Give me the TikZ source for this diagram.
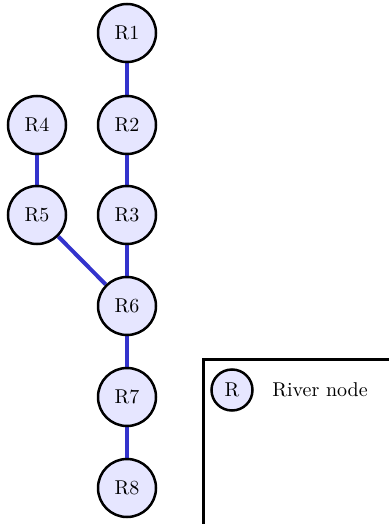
\documentclass[tikz,border=0pt]{standalone}
\usetikzlibrary{backgrounds}
\definecolor{riverblue}{RGB}{51,51,204}
\definecolor{nodefill}{RGB}{230,230,255}
\tikzset{
  river/.style={circle, draw=black, line width=1.25pt, fill=nodefill,
    minimum size=29pt, inner sep=0pt, font=\normalsize},
  smallriver/.style={circle, draw=black, line width=1.25pt, fill=nodefill,
    minimum size=20.5pt, inner sep=0pt, font=\normalsize},
  flow/.style={draw=riverblue, line width=2pt},
  legendbox/.style={draw=black, line width=1.5pt, fill=white}
}
\begin{document}
\begin{tikzpicture}[x=0.5pt, y=-0.5pt]
  \clip (0,0) rectangle (389,524);
  % river network
  \node[river] (R1) at (127,33)  {R1};
  \node[river] (R2) at (127,125) {R2};
  \node[river] (R3) at (127,215) {R3};
  \node[river] (R4) at (37,125)  {R4};
  \node[river] (R5) at (37,215)  {R5};
  \node[river] (R6) at (127,306) {R6};
  \node[river] (R7) at (127,397) {R7};
  \node[river] (R8) at (127,488) {R8};
  \begin{scope}[on background layer]
    \draw[flow] (R1) -- (R2);
    \draw[flow] (R2) -- (R3);
    \draw[flow] (R3) -- (R6);
    \draw[flow] (R4) -- (R5);
    \draw[flow] (R5) -- (R6);
    \draw[flow] (R6) -- (R7);
    \draw[flow] (R7) -- (R8);
  \end{scope}
  % legend
  \draw[legendbox] (203,359) rectangle (400,540);
  \node[smallriver] (LR) at (232,390) {R};
  \node[anchor=west, inner sep=0pt] (LT) at (272,390) {River node};
\end{tikzpicture}
\end{document}
